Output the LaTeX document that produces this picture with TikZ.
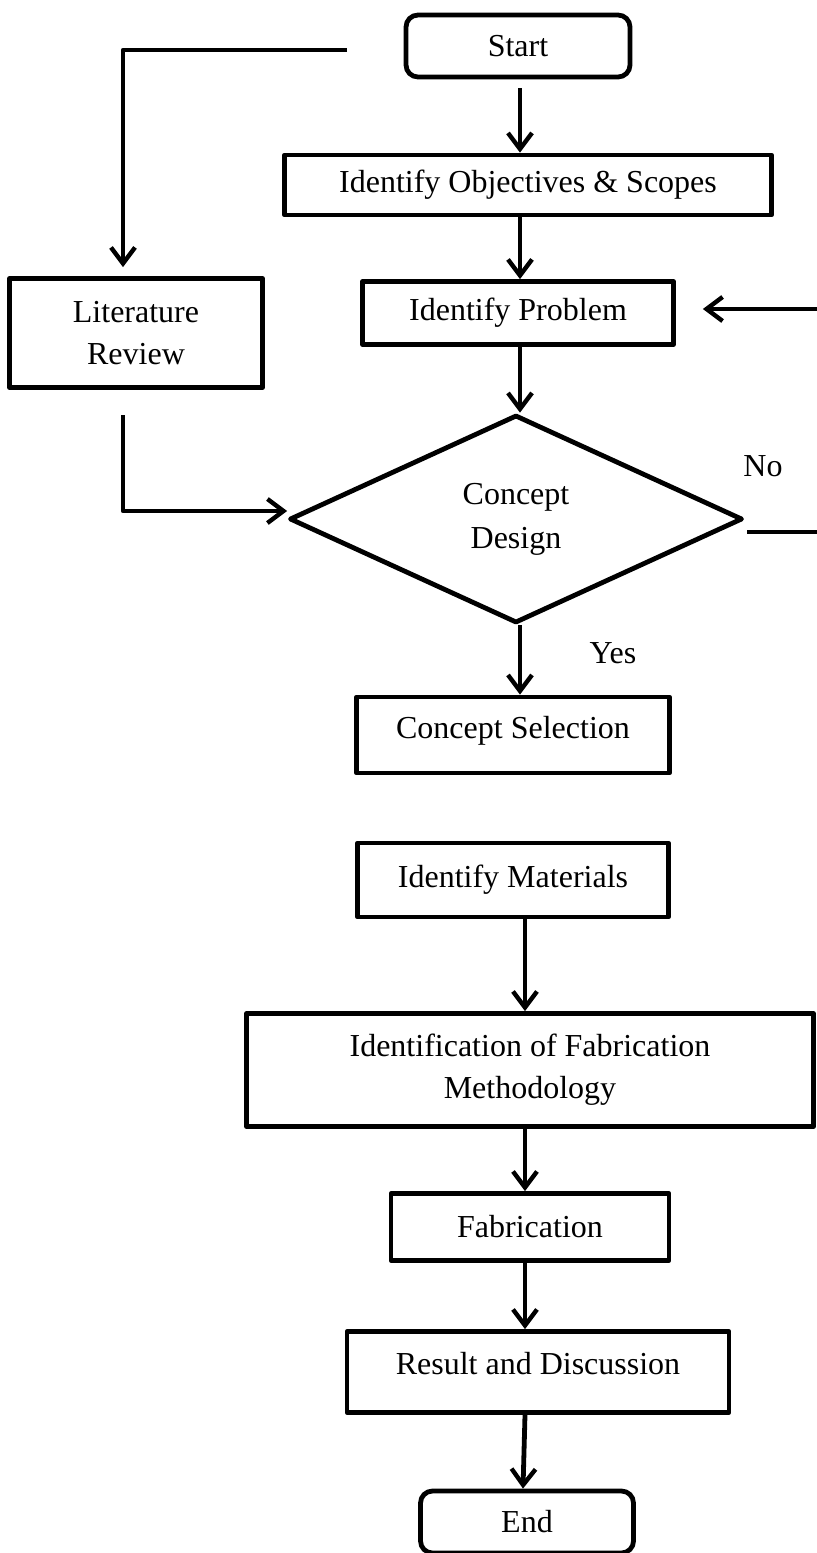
\documentclass[tikz,border=0pt]{standalone}
\usepackage{fontspec}
\setmainfont{Liberation Serif}
\usetikzlibrary{arrows.meta,shapes.geometric}
\begin{document}
\begin{tikzpicture}[x=0.5pt,y=-0.5pt,line join=round,line width=2.4pt,
	>={Straight Barb[length=8pt,width=12pt,line width=2.2pt]},
	font=\fontsize{16}{21}\selectfont,
	box/.style={draw,rectangle,align=center,inner sep=0pt},
	term/.style={box,rounded corners=6pt}]
	\useasboundingbox (0,0) rectangle (816,1553);
	% main axis
	\coordinate (ax) at (520,0);
	\coordinate (bx) at (525,0);
	\coordinate (lx) at (123,0);
	\node[term,minimum width=112pt,minimum height=31pt] (start) at (518,46) {Start};
	\node[box,minimum width=243.5pt,minimum height=30pt] (objs) at (528,185) {Identify Objectives \& Scopes};
	\node[box,minimum width=126.5pt,minimum height=54.5pt] (lit) at (136,333) {Literature\\Review};
	\node[box,minimum width=155.5pt,minimum height=31.5pt] (prob) at (518,313) {Identify Problem};
	\node[draw,diamond,minimum width=226.5pt,minimum height=104pt,inner sep=0pt,align=center,font=\fontsize{16}{22}\selectfont] (design) at (516,519) {Concept\\Design};
	\node[box,minimum width=156.5pt,minimum height=38pt,text depth=8pt] (sel) at (513,735) {Concept Selection};
	\node[box,minimum width=155.5pt,minimum height=37pt] (mat) at (513,880) {Identify Materials};
	\node[box,minimum width=283.5pt,minimum height=56.5pt] (meth) at (530,1070) {Identification of Fabrication\\Methodology};
	\node[box,minimum width=139pt,minimum height=33.5pt] (fab) at (530,1227) {Fabrication};
	\node[box,minimum width=191pt,minimum height=40.5pt,text depth=9pt] (res) at (538,1372) {Result and Discussion};
	\node[term,minimum width=106.5pt,minimum height=31pt] (end) at (527,1522) {End};
	\node (no) at (763,466) {No};
	\node (yes) at (613,653) {Yes};
	% connectors
	\draw[->,shorten <=4.5pt] (ax |- start.south) -- (ax |- objs.north);
	\draw[->] (ax |- objs.south) -- (ax |- prob.north);
	\draw[->] (ax |- prob.south) -- (ax |- design.north);
	\draw[->] (ax |- design.south) -- (ax |- sel.north);
	\draw[->] (bx |- mat.south) -- (bx |- meth.north);
	\draw[->] (bx |- meth.south) -- (bx |- fab.north);
	\draw[->] (bx |- fab.south) -- (bx |- res.north);
	\draw[->] (bx |- res.south) -- ([xshift=-1pt]bx |- end.north);
	\coordinate (tl) at (347,50);
	\coordinate (lb) at (123,415);
	\coordinate (nb) at (747,532);
	\draw[->,shorten >=4.5pt] (tl) -| (lx |- lit.north);
	\draw[->] (lb) |- ([yshift=4pt]design.west);
	\draw[->] (nb) -- ++(93,0) |- ([xshift=13.5pt,yshift=2pt]prob.east);
\end{tikzpicture}
\end{document}
